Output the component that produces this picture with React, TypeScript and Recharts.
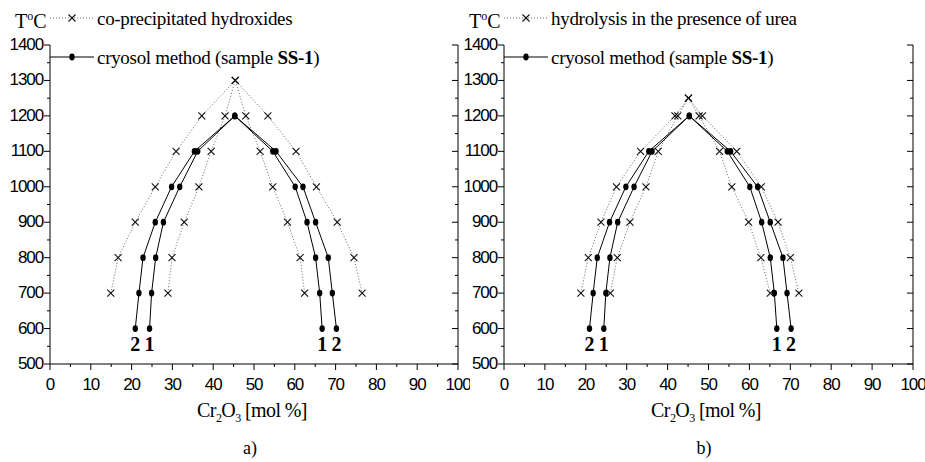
import { Scatter, ScatterChart, XAxis, YAxis } from "recharts"

const TEMP_TICKS = [500, 550, 600, 650, 700, 750, 800, 850, 900, 950, 1000, 1050, 1100, 1150, 1200, 1250, 1300, 1350, 1400]
const MOL_TICKS = [0, 5, 10, 15, 20, 25, 30, 35, 40, 45, 50, 55, 60, 65, 70, 75, 80, 85, 90, 95, 100]

// cryosol method, sample SS-1 (same in both panels); branches listed bottom -> top
const CRYO_TEMPS = [600, 700, 800, 900, 1000, 1100]
const CRYO_PEAK_T = 1200
const CRYO_PEAK_X = 45.3
const CRYO1_LEFT = [24.4, 24.9, 25.9, 27.8, 31.8, 36.2]
const CRYO1_RIGHT = [66.7, 66.1, 65.1, 63.0, 60.1, 54.6]
const CRYO2_LEFT = [20.9, 21.8, 22.8, 25.8, 29.8, 35.4]
const CRYO2_RIGHT = [70.2, 69.2, 68.2, 65.1, 62.0, 55.4]

// reference curves, branches listed bottom -> top
const REF_TEMPS = [700, 800, 900, 1000, 1100, 1200]

const HYDROX_PEAK_T = 1300
const HYDROX_PEAK_X = 45.4
const HYDROX_OUTER_LEFT = [14.9, 16.7, 20.9, 25.8, 30.9, 37.2]
const HYDROX_OUTER_RIGHT = [76.5, 74.5, 70.4, 65.3, 60.3, 53.4]
const HYDROX_INNER_LEFT = [28.9, 29.9, 32.9, 36.5, 39.5, 42.9]
const HYDROX_INNER_RIGHT = [62.4, 61.3, 58.2, 54.6, 51.5, 48.0]

const UREA_PEAK_T = 1250
const UREA_PEAK_X = 45.1
const UREA_OUTER_LEFT = [18.8, 20.6, 23.7, 27.5, 33.4, 41.8]
const UREA_OUTER_RIGHT = [72.1, 70.0, 67.0, 62.9, 56.9, 48.5]
const UREA_INNER_LEFT = [26.0, 27.7, 30.8, 34.7, 37.7, 42.5]
const UREA_INNER_RIGHT = [65.1, 62.8, 59.8, 55.7, 52.7, 47.7]

const SERIF = '"Liberation Serif", "Times New Roman", serif'
const SANS = '"Liberation Sans", Arial, sans-serif'

type Pt = { x: number; y: number; text?: string }

const branchCurve = (temps: number[], left: number[], peakX: number, peakT: number, right: number[]): Pt[] => [
  ...left.map((x, i) => ({ x, y: temps[i] })),
  { x: peakX, y: peakT },
  ...right.map((x, i) => ({ x, y: temps[i] })).reverse(),
]

const cryo1 = branchCurve(CRYO_TEMPS, CRYO1_LEFT, CRYO_PEAK_X, CRYO_PEAK_T, CRYO1_RIGHT)
const cryo2 = branchCurve(CRYO_TEMPS, CRYO2_LEFT, CRYO_PEAK_X, CRYO_PEAK_T, CRYO2_RIGHT)

const curveLabels: Pt[] = [
  { x: CRYO2_LEFT[0], y: CRYO_TEMPS[0], text: "2" },
  { x: CRYO1_LEFT[0], y: CRYO_TEMPS[0], text: "1" },
  { x: CRYO1_RIGHT[0], y: CRYO_TEMPS[0], text: "1" },
  { x: CRYO2_RIGHT[0], y: CRYO_TEMPS[0], text: "2" },
]

const CrossMark = (p: any) => (
  <g stroke="#111" strokeWidth={1.1}>
    <line x1={p.cx - 3.5} y1={p.cy - 3.5} x2={p.cx + 3.5} y2={p.cy + 3.5} />
    <line x1={p.cx - 3.5} y1={p.cy + 3.5} x2={p.cx + 3.5} y2={p.cy - 3.5} />
  </g>
)

const DotMark = (p: any) => <ellipse cx={p.cx} cy={p.cy} rx={2.7} ry={3.4} fill="#000" />

const CurveNumber = (p: any) => (
  <text x={p.cx} y={p.cy + 22} textAnchor="middle" fontFamily={SERIF} fontWeight="bold" fontSize={20} fill="#000">
    {p.payload.text}
  </text>
)

const LeftTick = ({ x, y, payload }: any) => {
  const major = payload.value % 100 === 0
  return (
    <g>
      <line x1={x - (major ? 6 : 3)} x2={x} y1={y} y2={y} stroke="#000" />
      {major ? (
        <text x={x - 7} y={y} dy={5} textAnchor="end" fontFamily={SANS} fontSize={17} letterSpacing={-1.1} fill="#000">
          {payload.value}
        </text>
      ) : null}
    </g>
  )
}

const RightTick = ({ x, y, payload }: any) => {
  const major = payload.value % 100 === 0
  return <line x1={x - (major ? 6 : 3)} x2={x} y1={y} y2={y} stroke="#000" />
}

const BottomTick = ({ x, y, payload }: any) => {
  const major = payload.value % 10 === 0
  return (
    <g>
      <line x1={x} x2={x} y1={y} y2={y + (major ? 6 : 3)} stroke="#000" />
      {major ? (
        <text x={x} y={y + 26} textAnchor="middle" fontFamily={SANS} fontSize={17} letterSpacing={-1.1} fill="#000">
          {payload.value}
        </text>
      ) : null}
    </g>
  )
}

interface PanelProps {
  left: number
  width: number
  refCurves: Pt[][]
  refName: string
  caption: string
}

function Panel({ left, width, refCurves, refName, caption }: PanelProps) {
  return (
    <div style={{ position: "absolute", left, top: 0, width, height: 462 }}>
      <ScatterChart width={width} height={462} margin={{ top: 45, right: 10, bottom: 68, left: 0 }}>
        <XAxis
          type="number"
          dataKey="x"
          domain={[0, 100]}
          ticks={MOL_TICKS}
          interval={0}
          tickLine={false}
          tickSize={0}
          tickMargin={0}
          tick={<BottomTick />}
          axisLine={{ stroke: "#000" }}
          height={30}
          allowDataOverflow
        />
        <YAxis
          type="number"
          dataKey="y"
          domain={[500, 1400]}
          ticks={TEMP_TICKS}
          interval={0}
          tickLine={false}
          tickSize={0}
          tickMargin={0}
          tick={<LeftTick />}
          axisLine={{ stroke: "#000" }}
          width={50}
          allowDataOverflow
        />
        <YAxis
          yAxisId="frame"
          orientation="right"
          type="number"
          domain={[500, 1400]}
          ticks={TEMP_TICKS}
          interval={0}
          tickLine={false}
          tickSize={0}
          tickMargin={0}
          tick={<RightTick />}
          axisLine={{ stroke: "#000" }}
          width={2}
          allowDataOverflow
        />
        {refCurves.map((pts, i) => (
          <Scatter
            key={`ref-${i}`}
            data={pts}
            line={{ stroke: "#666", strokeWidth: 1, strokeDasharray: "1 2" }}
            lineType="joint"
            shape={CrossMark}
            isAnimationActive={false}
          />
        ))}
        <Scatter data={cryo1} line={{ stroke: "#000", strokeWidth: 1 }} lineType="joint" shape={DotMark} isAnimationActive={false} />
        <Scatter data={cryo2} line={{ stroke: "#000", strokeWidth: 1 }} lineType="joint" shape={DotMark} isAnimationActive={false} />
        <Scatter data={curveLabels} shape={CurveNumber} isAnimationActive={false} />
      </ScatterChart>

      <svg width={width} height={462} style={{ position: "absolute", left: 0, top: 0, pointerEvents: "none" }}>
        <text x={15} y={28} fontFamily={SERIF} fontSize={20} fill="#000">
          T<tspan dy={-8} fontSize={12}>o</tspan>
          <tspan dy={8}>C</tspan>
        </text>

        <line x1={50} x2={94} y1={18} y2={18} stroke="#666" strokeDasharray="1 2" />
        <CrossMark cx={72} cy={18} />
        <text x={97} y={25} fontFamily={SERIF} fontSize={19} letterSpacing={-0.3} fill="#000">
          {refName}
        </text>

        <line x1={50} x2={94} y1={57} y2={57} stroke="#000" />
        <DotMark cx={72} cy={57} />
        <text x={97} y={64} fontFamily={SERIF} fontSize={19} letterSpacing={-0.3} fill="#000">
          cryosol method (sample <tspan fontWeight="bold">SS-1</tspan>)
        </text>

        <text x={252} y={417} textAnchor="middle" fontFamily={SERIF} fontSize={20} letterSpacing={-0.6} fill="#000">
          Cr<tspan dy={5} fontSize={12}>2</tspan>
          <tspan dy={-5}>O</tspan>
          <tspan dy={5} fontSize={12}>3</tspan>
          <tspan dy={-5}> [mol %]</tspan>
        </text>

        <text x={250} y={454} textAnchor="middle" fontFamily={SERIF} fontSize={18} fill="#000">
          {caption}
        </text>
      </svg>
    </div>
  )
}

export default function App() {
  const hydroxOuter = branchCurve(REF_TEMPS, HYDROX_OUTER_LEFT, HYDROX_PEAK_X, HYDROX_PEAK_T, HYDROX_OUTER_RIGHT)
  const hydroxInner = branchCurve(REF_TEMPS, HYDROX_INNER_LEFT, HYDROX_PEAK_X, HYDROX_PEAK_T, HYDROX_INNER_RIGHT)
  const ureaOuter = branchCurve(REF_TEMPS, UREA_OUTER_LEFT, UREA_PEAK_X, UREA_PEAK_T, UREA_OUTER_RIGHT)
  const ureaInner = branchCurve(REF_TEMPS, UREA_INNER_LEFT, UREA_PEAK_X, UREA_PEAK_T, UREA_INNER_RIGHT)

  return (
    <div style={{ position: "fixed", left: 0, top: 0, width: 925, height: 462, background: "#fff", overflow: "hidden" }}>
      <Panel left={0} width={470} refCurves={[hydroxOuter, hydroxInner]} refName="co-precipitated hydroxides" caption="a)" />
      <Panel left={454} width={471} refCurves={[ureaOuter, ureaInner]} refName="hydrolysis in the presence of urea" caption="b)" />
    </div>
  )
}
